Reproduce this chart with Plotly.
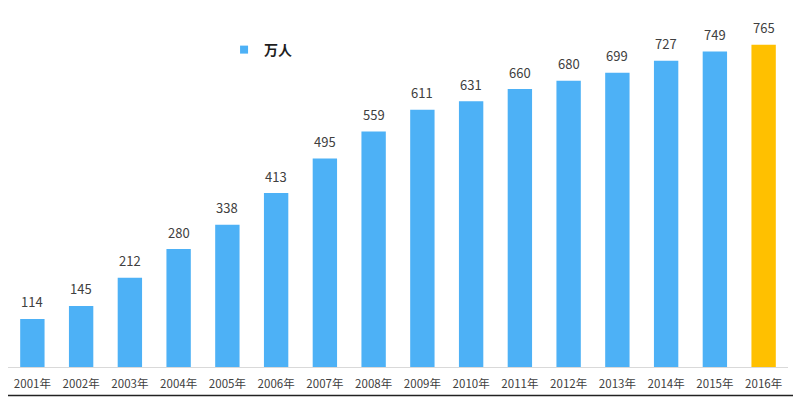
import plotly.graph_objects as go

years = ["2001年", "2002年", "2003年", "2004年", "2005年", "2006年", "2007年", "2008年",
         "2009年", "2010年", "2011年", "2012年", "2013年", "2014年", "2015年", "2016年"]
values = [114, 145, 212, 280, 338, 413, 495, 559, 611, 631, 660, 680, 699, 727, 749, 765]
series_name = "万人"

BLUE = "#4DB1F6"
GOLD = "#FFC000"
colors = [BLUE] * (len(values) - 1) + [GOLD]

FONT = "Noto Sans CJK SC, Microsoft YaHei, sans-serif"

fig = go.Figure()
fig.add_trace(go.Bar(
    x=years, y=values, name=series_name,
    marker=dict(color=colors, line=dict(width=0)),
    showlegend=False,
))
# legend entry with a small square symbol
fig.add_trace(go.Scatter(
    x=[None], y=[None], mode="markers", name=series_name,
    marker=dict(symbol="square", size=8, color=BLUE),
    showlegend=True,
))

annotations = [
    dict(x=yr, y=v, xref="x", yref="y", text=str(v), showarrow=False,
         yanchor="middle", yshift=17,
         font=dict(size=13, color="#404040", family=FONT))
    for yr, v in zip(years, values)
]

# the page body adds an 8px offset, compensated in the margins
W, H = 801, 397
OFF = 8
ml, mr, mt, mb = 0, 21, 12, 38
pw, ph = W - ml - mr, H - mt - mb

xr = (W - 2.5 - OFF - ml) / pw
yb = -(H - 1.5 - OFF - (mt + ph)) / ph

fig.update_layout(
    width=W, height=H,
    margin=dict(l=ml, r=mr, t=mt, b=mb, autoexpand=False),
    paper_bgcolor="white", plot_bgcolor="white",
    bargap=0.5,
    font=dict(family=FONT, color="#404040"),
    showlegend=True,
    legend=dict(x=0.277, y=0.9135, xanchor="left", yanchor="middle",
                font=dict(size=14, color="#1e1e1e", family=FONT, weight="bold"),
                bgcolor="rgba(0,0,0,0)", itemwidth=30),
    annotations=annotations,
    xaxis=dict(showgrid=False, showline=True, linecolor="#D9D9D9", linewidth=1,
               ticks="", ticklabelstandoff=6,
               tickfont=dict(size=11.5, color="#404040", family=FONT),
               fixedrange=True),
    yaxis=dict(visible=False, range=[0, 824], fixedrange=True),
    shapes=[
        dict(type="line", xref="paper", yref="paper",
             x0=xr, x1=xr, y0=yb, y1=(mt + ph + OFF) / ph,
             line=dict(color="#222222", width=2)),
        dict(type="line", xref="paper", yref="paper",
             x0=-(ml + OFF) / pw, x1=xr, y0=yb, y1=yb,
             line=dict(color="#222222", width=1.5)),
    ],
)

fig.write_html("out.html")
